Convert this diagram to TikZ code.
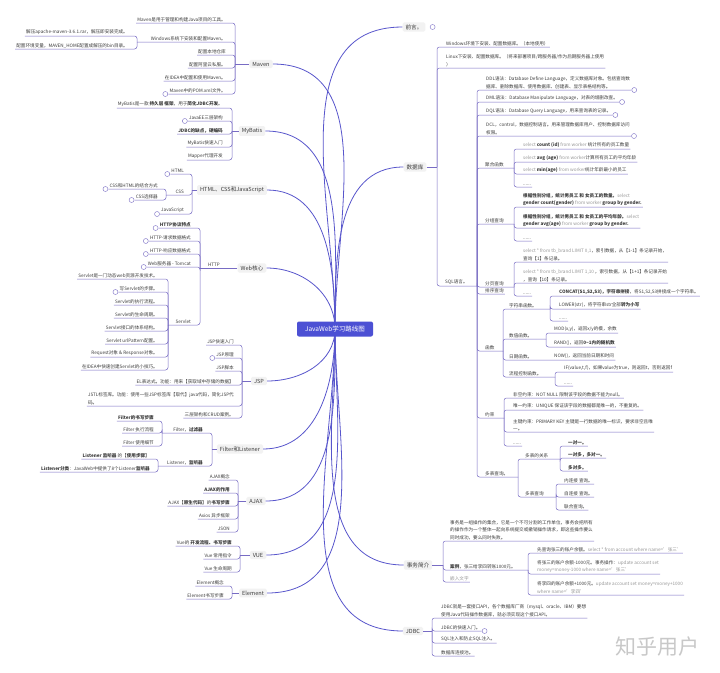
\documentclass[tikz,border=0pt]{standalone}
\usepackage{fontspec}
\setmainfont{Noto Sans CJK SC}
\definecolor{lcol}{RGB}{120,108,196}
\definecolor{mcol}{RGB}{88,86,204}
\definecolor{cfill}{RGB}{76,80,212}
\definecolor{tcol}{RGB}{60,60,60}
\definecolor{gtxt}{RGB}{150,150,150}
\definecolor{tfill}{RGB}{242,242,242}
\definecolor{wmcol}{RGB}{200,200,200}
\newcommand{\ct}{\fontsize{4.6}{7.5}\selectfont}
\newcommand{\tp}{\fontsize{5.6}{6.5}\selectfont}
\newcommand{\gy}[1]{\textcolor{gtxt}{#1}}
\begin{document}
\begin{tikzpicture}[x=1pt,y=-1pt,
 txt/.style={font=\ct, text=tcol, inner sep=1pt},
 ltx/.style={txt, anchor=south east},
 rtx/.style={txt, anchor=south west},
 mlx/.style={ltx, align=left},
 mrx/.style={rtx, align=left},
 br/.style={draw=lcol, line width=0.5pt, rounded corners=2.5pt},
 main/.style={draw=mcol, line width=0.8pt},
 topic/.style={fill=tfill, rounded corners=1.5pt, font=\tp, text=tcol, inner xsep=3pt, inner ysep=2pt},
 dotc/.style={circle, draw=lcol, line width=0.4pt, minimum size=5pt, inner sep=0pt, fill=white},
]
\useasboundingbox (0,0) rectangle (720,672);
\fill[white] (0,0) rectangle (720,672);

% ================= LEFT: Maven =================
\node[topic] (maven) at (261,64) {Maven};
\coordinate (mvS) at (235,64);
\draw[br] (maven.west) -- (mvS);
\node[ltx] (m1) at (227,23) {Maven是用于管理和构建Java项目的工具。};
\node[ltx] (m2) at (227,42) {Windows系统下安装和配置Maven。};
\node[ltx] (m3) at (227,55) {配置本地仓库};
\node[ltx] (m4) at (227,68) {配置阿里云私服。};
\node[ltx] (m5) at (227,81) {在IDEA中配置和使用Maven。};
\node[ltx] (m6) at (227,94) {Maven中的POM.xml文件。};
\foreach \nm in {m1,m3,m4,m5,m6} \draw[br] (mvS) |- (\nm.south west);
\coordinate (m2S) at (137,42);
\draw[br] (mvS) |- (m2S);
\node[ltx] (m2a) at (129,36) {解压apache-maven-3.6.1.rar，解压即安装完成。};
\node[ltx] (m2b) at (129,49) {配置环境变量，MAVEN\_HOME配置成解压的bin目录。};
\draw[br] (m2S) |- (m2a.south west);
\draw[br] (m2S) |- (m2b.south west);
\node[dotc] (dm6) at ([xshift=-3pt]m6.south west) {};

% ================= LEFT: MyBatis =================
\node[topic] (mybatis) at (252,131) {MyBatis};
\coordinate (mbS) at (232,131);
\draw[br] (mybatis.west) -- (mbS);
\node[ltx] (b1) at (224,108) {MyBatis是一款 \textbf{持久层 框架}，用于\textbf{简化JDBC开发}。};
\node[ltx] (b2) at (224,121) {JavaEE三层架构};
\node[ltx] (b3) at (224,134) {\textbf{JDBC的缺点，硬编码}};
\node[ltx] (b4) at (224,147) {MyBatis快速入门};
\node[ltx] (b5) at (224,160) {Mapper代理开发};
\foreach \nm in {b1,b2,b3,b4,b5} \draw[br] (mbS) |- (\nm.south west);
\node[dotc] (db2) at ([xshift=-3pt]b2.south west) {};

% ================= LEFT: HTML CSS JS =================
\node[topic] (html) at (232,190) {HTML、CSS和JavaScript};
\coordinate (hS) at (192,190);
\draw[br] (html.west) -- (hS);
\node[ltx] (h1) at (185,174) {HTML};
\node[ltx] (h2) at (185,195) {CSS};
\node[ltx] (h3) at (185,214) {JavaScript};
\draw[br] (hS) |- (h1.south west);
\draw[br] (hS) |- (h3.south west);
\coordinate (h2S) at (166,195);
\draw[br] (hS) |- (h2S);
\node[ltx] (h2a) at (159,189) {CSS和HTML的结合方式};
\node[ltx] (h2b) at (159,200) {CSS选择器};
\draw[br] (h2S) |- (h2a.south west);
\draw[br] (h2S) |- (h2b.south west);
\foreach \nm in {h1,h2a,h2b,h3} \node[dotc] at ([xshift=-3pt]\nm.south west) {};

% ================= LEFT: Web =================
\node[topic] (web) at (252,268) {Web核心};
\coordinate (wS) at (200,268);
\draw[br] (web.west) -- (wS);
\node[txt, anchor=south] (http) at (214,268) {HTTP};
\node[ltx] (w1) at (192,228) {\textbf{HTTP协议特点}};
\node[ltx] (w2) at (192,241) {HTTP-请求数据格式};
\node[ltx] (w3) at (192,254) {HTTP-响应数据格式};
\node[ltx] (w4) at (192,267) {Web服务器 - Tomcat};
\foreach \nm in {w1,w2,w3,w4} {\draw[br] (wS) |- (\nm.south west); \node[dotc] at ([xshift=-3pt]\nm.south west) {};}
\node[ltx] (sv) at (192,325) {Servlet};
\coordinate (svS) at (168,325);
\draw[br] (wS) |- (svS);
\node[ltx] (s1) at (159,279) {Servlet是一门动态web资源开发技术。};
\node[ltx] (s2) at (159,292) {写Servlet的步骤。};
\node[ltx] (s3) at (159,305) {Servlet的执行流程。};
\node[ltx] (s4) at (159,318) {Servlet的生命周期。};
\node[ltx] (s5) at (159,331) {Servlet接口的体系结构。};
\node[ltx] (s6) at (159,344) {Servlet urlPattern配置。};
\node[ltx] (s7) at (159,357) {Request对象 \& Response对象。};
\node[ltx] (s8) at (159,370) {在IDEA中快速创建Servlet的小技巧。};
\foreach \nm in {s1,s2,s3,s4,s5,s6,s7,s8} \draw[br] (svS) |- (\nm.south west);
\node[dotc] at ([xshift=-3pt]s2.south west) {};

% ================= LEFT: JSP =================
\node[topic] (jsp) at (259,381) {JSP};
\coordinate (jS) at (242,381);
\draw[br] (jsp.west) -- (jS);
\node[ltx] (j1) at (235,345) {JSP快速入门};
\node[ltx] (j2) at (235,358) {JSP原理};
\node[ltx] (j3) at (235,371) {JSP脚本};
\node[ltx] (j4) at (235,385) {EL表达式。功能：用来【获取域中存储的数据】};
\node[mlx] (j5) at (235,406) {JSTL标签库。功能：使用一些JSP标签库【取代】java代码，简化JSP代\\码。};
\node[ltx] (j6) at (235,418) {三层架构和CRUD案例。};
\foreach \nm in {j1,j2,j3,j4,j5,j6} \draw[br] (jS) |- (\nm.south west);
\node[dotc] at ([xshift=-3pt]j2.south west) {};

% ================= LEFT: Filter & Listener =================
\node[topic] (fl) at (240,449) {Filter和Listener};
\coordinate (fS) at (212,449);
\draw[br] (fl.west) -- (fS);
\node[ltx] (f1) at (204,433) {Filter，\textbf{过滤器}};
\coordinate (f1S) at (162,433);
\draw[br] (fS) |- (f1S);
\node[ltx] (f1a) at (155,421) {\textbf{Filter的书写步骤}};
\node[ltx] (f1b) at (155,433) {Filter 执行流程};
\node[ltx] (f1c) at (155,446) {Filter 使用细节};
\foreach \nm in {f1a,f1b,f1c} \draw[br] (f1S) |- (\nm.south west);
\node[ltx] (f2) at (204,466) {Listener，\textbf{监听器}};
\coordinate (f2S) at (158,466);
\draw[br] (fS) |- (f2S);
\node[ltx] (f2a) at (151,459) {\textbf{Listener 监听器} 的【\textbf{使用步骤}】};
\node[ltx] (f2b) at (151,472) {\textbf{Listener分类}：JavaWeb中提供了8个Listener\textbf{监听器}};
\foreach \nm in {f2a,f2b} \draw[br] (f2S) |- (\nm.south west);

% ================= LEFT: AJAX =================
\node[topic] (ajax) at (256,501) {AJAX};
\coordinate (aS) at (238,501);
\draw[br] (ajax.west) -- (aS);
\node[ltx] (a1) at (231,480) {AJAX概念};
\node[ltx] (a2) at (231,493) {\textbf{AJAX的作用}};
\node[ltx] (a3) at (231,506) {AJAX【\textbf{原生代码}】的\textbf{书写步骤}};
\node[ltx] (a4) at (231,519) {Axios 异步框架};
\node[ltx] (a5) at (231,532) {JSON};
\foreach \nm in {a1,a2,a3,a4,a5} \draw[br] (aS) |- (\nm.south west);

% ================= LEFT: VUE =================
\node[topic] (vue) at (258,555) {VUE};
\coordinate (vS) at (240,555);
\draw[br] (vue.west) -- (vS);
\node[ltx] (v1) at (233,546) {Vue的 \textbf{开发流程、书写步骤}};
\node[ltx] (v2) at (233,559) {Vue 常用指令};
\node[ltx] (v3) at (233,572) {Vue 生命周期};
\foreach \nm in {v1,v2,v3} \draw[br] (vS) |- (\nm.south west);

% ================= LEFT: Element =================
\node[topic] (elem) at (253,593) {Element};
\coordinate (eS) at (232,593);
\draw[br] (elem.west) -- (eS);
\node[ltx] (e1) at (225,586) {Element概念};
\node[ltx] (e2) at (225,599) {Element书写步骤};
\foreach \nm in {e1,e2} \draw[br] (eS) |- (\nm.south west);

% ================= RIGHT: 前言 =================
\node[topic] (qy) at (414,27) {前言。};
\node[dotc] (dqy) at ([xshift=7pt]qy.east) {};

% ================= RIGHT: 数据库 =================
\node[topic] (db) at (415,167) {数据库};
\coordinate (dS) at (437,167);
\draw[br] (db.east) -- (dS);
\node[rtx] (d1) at (445,47) {Windows环境下安装、配置数据库。（本地使用）};
\node[mrx] (d2) at (445,68) {Linux下安装、配置数据库。（将来部署项目/跨服务器/作为后期服务器上使用\\）};
\draw[br] (dS) |- (d1.south east);
\draw[br] (dS) |- (d2.south east);
\node[rtx] (d3) at (444,286) {SQL语言。};
\coordinate (qS) at (477,286);
\draw[br] (dS) |- (qS);

\node[mrx] (q1) at (485,90) {DDL语法：Database Define Language，定义数据库对象。包括查询数\\据库、删除数据库、使用数据库、创建表、显示表格结构等。};
\node[rtx] (q2) at (485,102) {DML语法：Database Manipulate Language，对表的增删改查。};
\node[rtx] (q3) at (485,115) {DQL语法：Database Query Language，用来查询表的记录。};
\node[mrx] (q4) at (485,136) {DCL，control，数据控制语言。用来管理数据库用户、控制数据库访问\\权限。};
\foreach \nm in {q1,q2,q3,q4} {\draw[br] (qS) |- (\nm.south east); \node[dotc] at ([xshift=3pt]\nm.south east) {};}

\node[rtx] (q5) at (484,168) {聚合函数};
\coordinate (q5S) at (514,168);
\draw[br] (qS) |- (q5S);
\node[rtx] (q5a) at (522,149) {\gy{select} \textbf{count (id)} \gy{from worker} 统计所有的员工数量};
\node[rtx] (q5b) at (522,162) {\gy{select} \textbf{avg (age)} \gy{from worker}计算所有员工的平均年龄};
\node[rtx] (q5c) at (522,174) {\gy{select} \textbf{min(age)} \gy{from worker}统计年龄最小的员工};
\node[rtx] (q5d) at (522,187) {......};
\foreach \nm in {q5a,q5b,q5c,q5d} \draw[br] (q5S) |- (\nm.south east);

\node[rtx] (q6) at (484,224) {分组查询};
\coordinate (q6S) at (514,224);
\draw[br] (qS) |- (q6S);
\node[mrx] (q6a) at (522,207) {\textbf{根据性别分组，统计男员工 和 女员工的数量。}\gy{select}\\\textbf{gender count(gender)} \gy{from worker} \textbf{group by gender.}};
\node[mrx] (q6b) at (522,228) {\textbf{根据性别分组，统计男员工 和 女员工的平均年龄。}\gy{select}\\\textbf{gender avg(age)} \gy{from worker} \textbf{group by gender.}};
\node[rtx] (q6c) at (522,241) {......};
\foreach \nm in {q6a,q6b,q6c} \draw[br] (q6S) |- (\nm.south east);

\node[rtx] (q7) at (484,287) {分页查询};
\coordinate (q7S) at (514,287);
\draw[br] (qS) |- (q7S);
\node[mrx] (q7a) at (522,262) {\gy{select * from tb\_brand LIMIT 0,1}，索引数据，从【1-1】条记录开始，\\查询【1】条记录。};
\node[mrx] (q7b) at (522,283) {\gy{select * from tb\_brand LIMIT 1,10} ，索引数据，从【1+1】条记录开始\\，查询【10】条记录。};
\node[rtx] (q7c) at (522,296) {......};
\foreach \nm in {q7a,q7b,q7c} \draw[br] (q7S) |- (\nm.south east);

\node[rtx] (q8) at (484,294) {排序查询};
\draw[br] (qS) |- (q8.south east);

\node[rtx] (q9) at (484,351) {函数};
\coordinate (q9S) at (503,351);
\draw[br] (qS) |- (q9S);
\node[rtx] (q9a) at (508,309) {字符串函数。};
\coordinate (q9aS) at (550,309);
\draw[br] (q9S) |- (q9aS);
\node[rtx] (q9a1) at (558,296) {\textbf{CONCAT(S1,S2,S3)，字符串拼接}，将S1,S2,S3拼接成一个字符串。};
\node[rtx] (q9a2) at (558,309) {LOWER(str)，将字符串str全部\textbf{转为小写}};
\node[rtx] (q9a3) at (558,321) {......};
\foreach \nm in {q9a1,q9a2,q9a3} \draw[br] (q9aS) |- (\nm.south east);
\node[rtx] (q9b) at (508,339) {数值函数。};
\coordinate (q9bS) at (546,339);
\draw[br] (q9S) |- (q9bS);
\node[rtx] (q9b1) at (553,333) {MOD(x,y)，返回x/y的模，余数};
\node[rtx] (q9b2) at (553,347) {RAND()，返回\textbf{0\textasciitilde1内的随机数}};
\foreach \nm in {q9b1,q9b2} \draw[br] (q9bS) |- (\nm.south east);
\node[rtx] (q9c) at (508,360) {日期函数。};
\node[rtx] (q9c1) at (553,360) {NOW()，返回当前日期和时间};
\draw[br] (q9S) |- (q9c1.south east);
\node[rtx] (q9d) at (508,377) {流程控制函数。};
\coordinate (q9dS) at (555,377);
\draw[br] (q9S) |- (q9dS);
\node[rtx] (q9d1) at (563,372) {IF(value,t,f)，如果value为true，则返回t，否则返回f};
\node[rtx] (q9d2) at (563,386) {......};
\foreach \nm in {q9d1,q9d2} \draw[br] (q9dS) |- (\nm.south east);

\node[rtx] (q10) at (484,418) {约束};
\coordinate (q10S) at (504,418);
\draw[br] (qS) |- (q10S);
\node[rtx] (q10a) at (512,398) {非空约束：NOT NULL 限制该字段的数据不能为null。};
\node[rtx] (q10b) at (512,410) {唯一约束：UNIQUE 保证该字段的数据都是唯一的，不重复的。};
\node[mrx] (q10c) at (512,432) {主键约束：PRIMARY KEY 主键是一行数据的唯一标识，要求非空且唯\\一。};
\node[rtx] (q10d) at (512,446) {......};
\foreach \nm in {q10a,q10b,q10c,q10d} \draw[br] (q10S) |- (\nm.south east);

\node[rtx] (q11) at (484,477) {多表查询。};
\coordinate (q11S) at (518,477);
\draw[br] (qS) |- (q11S);
\node[rtx] (q11a) at (524,459) {多表的关系};
\coordinate (q11aS) at (560,459);
\draw[br] (q11S) |- (q11aS);
\node[rtx] (r1) at (567,446) {\textbf{一对一。}};
\node[rtx] (r2) at (567,458) {\textbf{一对多，多对一。}};
\node[rtx] (r3) at (567,471) {\textbf{多对多。}};
\foreach \nm in {r1,r2,r3} \draw[br] (q11aS) |- (\nm.south east);
\node[rtx] (q11b) at (524,497) {多表查询};
\coordinate (q11bS) at (556,497);
\draw[br] (q11S) |- (q11bS);
\node[rtx] (u1) at (563,484) {内连接 查询。};
\node[rtx] (u2) at (563,497) {自连接 查询。};
\node[rtx] (u3) at (563,510) {联合查询。};
\foreach \nm in {u1,u2,u3} \draw[br] (q11bS) |- (\nm.south east);

% ================= RIGHT: 事务简介 =================
\node[topic] (tx) at (418,565) {事务简介};
\coordinate (tS) at (443,565);
\draw[br] (tx.east) -- (tS);
\node[mrx] (t1) at (449,541) {事务是一组操作的集合，它是一个不可分割的工作单位，事务会把所有\\的操作作为一个整体一起向系统提交或撤销操作请求，即这些操作要么\\同时成功，要么同时失败。};
\draw[br] (tS) |- (t1.south east);
\node[rtx] (t2) at (449,570) {\textbf{案例}，张三给李四转账1000元。};
\coordinate (t2S) at (528,570);
\draw[br] (tS) |- (t2S);
\node[rtx] (t2a) at (536,553) {先查询张三的账户余额。\gy{select * from account where name='张三'}};
\node[mrx] (t2b) at (536,574) {将张三的账户余额-1000元。事务操作：\gy{update account set}\\\gy{money=money-1000 where name='张三'}};
\node[mrx] (t2c) at (536,595) {将李四的账户余额+1000元。\gy{update account set money=money+1000}\\\gy{where name='李四'}};
\foreach \nm in {t2a,t2b,t2c} \draw[br] (t2S) |- (\nm.south east);
\node[rtx, text=gtxt] (t3) at (449,582) {嵌入文字};
\draw[br] (tS) |- (t3.south east);

% ================= RIGHT: JDBC =================
\node[topic] (jdbc) at (413,631) {JDBC};
\coordinate (kS) at (432,631);
\draw[br] (jdbc.east) -- (kS);
\node[mrx] (k1) at (440,618) {JDBC就是一套接口API，各个数据库厂商（mysql、oracle、IBM）要想\\使用Java代码操作数据库，就必须实现这个接口API。};
\node[rtx] (k2) at (440,631) {JDBC的快速入门。};
\node[rtx] (k3) at (440,643) {SQL注入和防止SQL注入。};
\node[rtx] (k4) at (440,656) {数据库连接池。};
\foreach \nm in {k1,k2,k3,k4} \draw[br] (kS) |- (\nm.south east);
\node[dotc] at ([xshift=3pt]k2.south east) {};

% ================= main curves =================
\coordinate (C0) at (335,329);
\foreach \nm in {maven,mybatis,html,web} \draw[main] (C0) to[out=90,in=0] (\nm.east);
\foreach \nm in {jsp,fl,ajax,vue,elem} \draw[main] (C0) to[out=-90,in=0] (\nm.east);
\foreach \nm in {qy,db} \draw[main] (C0) to[out=90,in=180] (\nm.west);
\foreach \nm in {tx,jdbc} \draw[main] (C0) to[out=-90,in=180] (\nm.west);

\node[fill=cfill, rounded corners=2pt, text=white, font=\fontsize{6.5}{7}\selectfont, minimum width=76pt, minimum height=15pt, inner sep=2pt] (center) at (C0) {JavaWeb学习路线图};

% watermark
\node[text=wmcol, font=\fontsize{21}{22}\selectfont] (wm) at (657,647) {知乎用户};
\end{tikzpicture}
\end{document}
